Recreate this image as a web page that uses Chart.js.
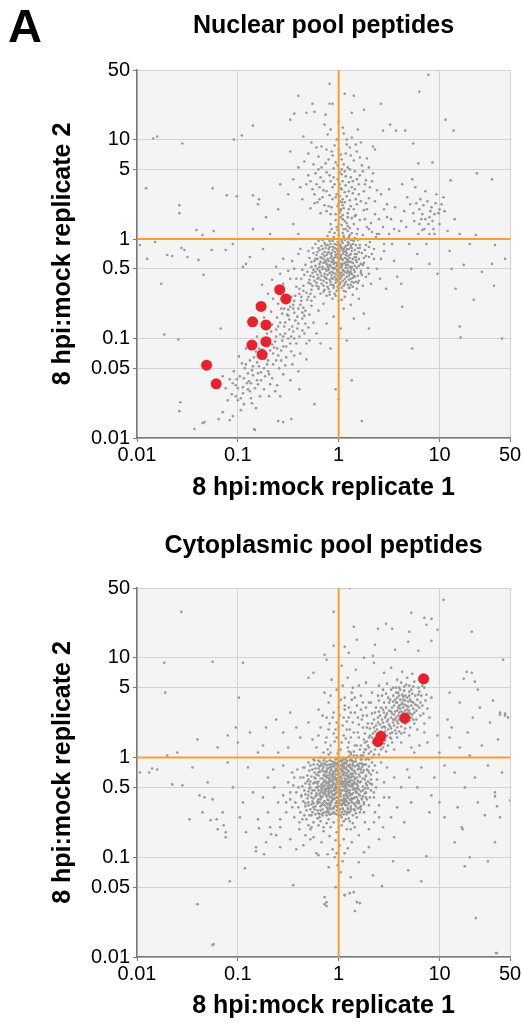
<!DOCTYPE html>
<html>
<head>
<meta charset="utf-8">
<script src="https://cdn.jsdelivr.net/npm/chart.js@4.4.0/dist/chart.umd.min.js"></script>
<style>
  html, body { margin: 0; padding: 0; background: #fff; }
  body { width: 523px; height: 1027px; position: relative; overflow: hidden; font-family: 'Liberation Sans', Arial, sans-serif; }
  #nuclearWrap { position: absolute; left: 0; top: 0; width: 523px; height: 510px; }
  #cytoWrap { position: absolute; left: 0; top: 510px; width: 523px; height: 517px; }
  #panelLetter { position: absolute; left: 8px; top: 2px; font-size: 47px; font-weight: bold; line-height: 47px; z-index: 2; }
</style>
</head>
<body>
<div id="nuclearWrap"><canvas id="nuclearChart" width="523" height="510"></canvas></div>
<div id="cytoWrap"><canvas id="cytoChart" width="523" height="517"></canvas></div>
<div id="panelLetter">A</div>
<script>
const FONT = "'Liberation Sans', Arial, Helvetica, sans-serif";
const ORANGE = '#f2a02e';

const xTickValues = [0.01, 0.1, 1, 10, 50];
const yTickValues = [0.01, 0.05, 0.1, 0.5, 1, 5, 10, 50];

// highlighted peptides (ratio rep1, ratio rep2)
const nuclearHighlighted = [[0.26, 0.31], [0.30, 0.25], [0.17, 0.21], [0.14, 0.147], [0.19, 0.137],
  [0.138, 0.086], [0.19, 0.093], [0.174, 0.069], [0.049, 0.054], [0.061, 0.035]];
const cytoHighlighted = [[6.95, 6.15], [4.53, 2.48], [2.62, 1.63], [2.45, 1.44]];

// background peptides, log10(rep1), log10(rep2) pairs, by region
const nuclearCore = [
  0.02,-0.18, -0.05,-0.22, 0.07,-0.12, -0.11,-0.27, 0.12,-0.08, -0.02,-0.31, 0.04,-0.25, -0.08,-0.15, 0.15,-0.02, -0.14,-0.35,
  0.01,-0.05, 0.09,-0.21, -0.17,-0.19, 0.05,0.03, -0.03,-0.41, 0.18,-0.15, -0.21,-0.30, 0.10,-0.33, -0.06,-0.08, 0.03,-0.37,
  -0.12,-0.44, 0.13,0.06, -0.01,0.09, 0.21,-0.06, -0.25,-0.38, 0.06,-0.45, -0.09,-0.02, 0.16,-0.27, -0.19,-0.11, 0.00,-0.28,
  0.08,0.00, -0.04,-0.13, 0.11,-0.16, -0.15,-0.24, 0.24,0.04, -0.28,-0.45, 0.03,0.14, -0.07,-0.36, 0.14,-0.39, -0.22,-0.16,
  0.19,0.10, -0.10,-0.50, 0.07,-0.29, -0.01,-0.48, 0.26,-0.11, -0.31,-0.33, 0.02,-0.09, -0.13,-0.06, 0.09,0.08, -0.18,-0.41,
  0.17,-0.21, -0.05,0.02, 0.12,-0.46, -0.24,-0.22, 0.04,-0.15, -0.02,-0.24, 0.22,-0.32, -0.35,-0.47, 0.06,0.18, -0.08,-0.46,
  0.28,0.12, -0.16,-0.01, 0.01,-0.34, -0.11,-0.20, 0.15,0.15, -0.27,-0.51, 0.10,-0.04, -0.03,-0.18, 0.20,-0.42, -0.20,-0.48,
  0.05,-0.52, -0.06,-0.29, 0.13,-0.12, -0.33,-0.26, 0.31,-0.03, -0.09,0.07, 0.00,0.04, 0.08,-0.38, -0.14,-0.13, 0.18,-0.50,
  -0.23,-0.05, 0.03,-0.02, -0.04,-0.55, 0.11,0.11, -0.29,-0.19, 0.25,-0.24, -0.12,-0.32, 0.07,-0.07, -0.02,0.12, 0.16,0.01,
  -0.18,-0.55, 0.33,0.07, -0.07,-0.23, 0.04,-0.42, -0.37,-0.40, 0.09,-0.26, -0.10,-0.10, 0.21,0.19, -0.26,-0.09, 0.14,-0.56,
  0.02,0.22, -0.15,-0.47, 0.27,-0.17, -0.05,-0.34, 0.06,-0.19, -0.21,-0.36, 0.12,-0.23, -0.01,-0.12, 0.19,-0.09, -0.32,-0.54,
  0.05,-0.32, -0.08,0.15, 0.23,-0.36, -0.13,-0.39, 0.00,-0.43, 0.10,0.02, -0.19,-0.25, 0.35,-0.20, -0.04,-0.05, 0.08,-0.14,
  -0.24,-0.58, 0.16,-0.33, -0.11,0.03, 0.03,-0.61, -0.30,-0.12, 0.13,0.21, -0.06,-0.40, 0.29,-0.29, -0.16,-0.30, 0.01,-0.20,
  0.07,0.10, -0.09,-0.53, 0.20,-0.13, -0.36,-0.31, 0.04,0.06, -0.02,-0.27, 0.17,0.24, -0.22,-0.44, 0.11,-0.35, -0.14,-0.17,
  0.24,-0.47, -0.03,0.19, 0.06,-0.58, -0.27,-0.28, 0.14,-0.05, -0.08,-0.19, 0.32,0.16, -0.17,-0.07, 0.02,-0.44, 0.09,-0.17,
  -0.12,-0.57, 0.18,0.05, -0.25,-0.14, 0.00,0.00, -0.05,-0.47, 0.22,-0.25, -0.39,-0.50, 0.12,-0.01, -0.10,-0.31, 0.05,-0.10,
  0.26,0.20, -0.20,-0.02, 0.15,-0.44, -0.01,-0.37, 0.08,0.16, -0.29,-0.41, 0.03,-0.26, -0.07,0.10, 0.19,-0.37, -0.15,-0.53,
  0.10,-0.49, -0.04,0.06, 0.30,-0.08, -0.23,-0.33, 0.01,0.27, 0.13,-0.28, -0.11,-0.14, 0.07,-0.53, -0.34,-0.36, 0.21,0.00,
  -0.02,-0.06, 0.16,-0.18, -0.18,-0.34, 0.04,0.24, -0.06,-0.60, 0.27,-0.38, -0.13,-0.23, 0.09,0.13, -0.26,-0.47, 0.00,-0.32,
  0.12,-0.40, -0.09,-0.26, 0.37,0.02, -0.21,-0.20
];
const nuclearCoreDense = [
  -0.03,-0.16, 0.06,-0.24, -0.10,-0.22, 0.01,-0.29, 0.10,-0.10, -0.16,-0.28, 0.04,-0.11, -0.07,-0.33, 0.14,-0.20, -0.01,-0.03,
  -0.13,-0.09, 0.08,-0.34, -0.20,-0.39, 0.02,-0.39, 0.17,-0.06, -0.05,-0.25, 0.11,-0.28, -0.09,-0.41, 0.05,0.01, -0.18,-0.23,
  0.00,-0.14, 0.13,-0.35, -0.12,-0.16, 0.07,-0.43, -0.02,-0.52, 0.20,-0.20, -0.23,-0.27, 0.03,-0.20, -0.06,-0.11, 0.09,-0.03,
  -0.15,-0.42, 0.12,-0.15, -0.04,-0.38, 0.16,-0.11, -0.08,-0.05, 0.01,-0.46, -0.19,-0.32, 0.06,-0.08, -0.11,-0.48, 0.23,-0.14,
  -0.01,-0.19, 0.10,-0.41, -0.26,-0.34, 0.04,-0.31, -0.07,-0.17, 0.14,-0.24, -0.14,-0.38, 0.02,-0.07, -0.03,-0.44, 0.18,-0.29,
  -0.21,-0.13, 0.08,-0.20, -0.10,-0.29, 0.00,-0.23, 0.11,0.04, -0.05,-0.49, 0.15,-0.37, -0.17,-0.45, 0.05,-0.36, -0.09,-0.08,
  0.21,-0.09, -0.02,-0.10, 0.07,-0.26, -0.13,-0.30, 0.03,-0.49, -0.24,-0.42, 0.12,-0.30, -0.06,-0.21, 0.17,-0.43, 0.00,-0.09,
  -0.16,-0.15, 0.09,-0.46, -0.04,-0.29, 0.19,-0.01, -0.11,-0.36, 0.04,-0.21, -0.20,-0.50, 0.13,-0.09, -0.08,-0.43, 0.02,-0.16,
  0.25,-0.19, -0.14,-0.04, 0.06,-0.40, -0.01,-0.33, 0.10,-0.23, -0.28,-0.37, 0.15,-0.31, -0.06,-0.02, 0.03,-0.28, -0.18,-0.18,
  0.08,-0.10, -0.03,-0.57, 0.20,-0.27, -0.10,-0.13, 0.01,-0.40, -0.22,-0.47, 0.11,-0.19, -0.07,-0.39, 0.14,-0.48, -0.02,-0.15,
  0.05,-0.13, -0.12,-0.25, 0.27,-0.06, -0.04,-0.09, 0.08,-0.29, -0.17,-0.37, 0.00,-0.50, 0.12,-0.06, -0.09,-0.34, 0.18,-0.23,
  -0.25,-0.31, 0.03,-0.34, -0.05,-0.19, 0.16,-0.15, -0.14,-0.51, 0.07,-0.16, -0.01,-0.26, 0.10,-0.37, -0.20,-0.09, 0.04,-0.04,
  -0.08,-0.27, 0.22,-0.34, -0.03,-0.35, 0.13,-0.43, -0.15,-0.20, 0.01,-0.12, -0.30,-0.44, 0.09,-0.32, -0.06,-0.46, 0.17,-0.18,
  -0.11,-0.06, 0.05,-0.47, -0.02,-0.40, 0.24,-0.26, -0.19,-0.28, 0.06,-0.01, -0.07,-0.14, 0.11,-0.49, -0.23,-0.20, 0.02,-0.25,
  0.14,-0.01, -0.12,-0.40, 0.00,-0.17, -0.04,-0.24, 0.19,-0.44, -0.16,-0.10, 0.08,-0.23, -0.09,-0.56, 0.03,-0.09, 0.30,-0.18,
  -0.27,-0.23, 0.12,-0.33, -0.01,-0.42, 0.06,-0.33, -0.13,-0.22, 0.16,-0.38, -0.05,-0.30, 0.09,-0.06, -0.21,-0.40, 0.01,-0.36,
  0.02,0.30, 0.04,0.40, 0.01,0.55, 0.03,0.70, 0.02,0.85, 0.04,0.20, 0.00,0.15, 0.05,0.10, 0.03,0.50, 0.01,0.38
];
const nuclearUpperTail = [
  0.05,0.31, -0.12,0.28, 0.18,0.35, -0.03,0.42, 0.09,0.26, -0.21,0.37, 0.02,0.51, 0.14,0.46, -0.08,0.58, 0.25,0.29,
  -0.15,0.49, 0.07,0.63, -0.28,0.31, 0.00,0.35, 0.20,0.55, -0.05,0.71, 0.11,0.39, -0.18,0.62, 0.03,0.80, 0.30,0.41,
  -0.10,0.33, 0.16,0.68, -0.24,0.45, 0.06,0.47, -0.01,0.60, 0.23,0.74, -0.32,0.55, 0.12,0.84, -0.07,0.88, 0.01,0.67,
  -0.13,0.76, 0.27,0.59, -0.36,0.40, 0.08,0.95, -0.20,0.83, 0.18,0.88, -0.02,1.00, 0.34,0.66, -0.11,1.05, 0.04,1.12,
  -0.27,0.97, 0.13,1.02, -0.40,0.72, 0.22,0.97, -0.06,0.52, 0.10,0.57, -0.16,0.42, 0.02,0.29, 0.15,0.30, -0.09,0.44,
  0.06,0.37, -0.23,0.66, 0.28,0.81, -0.04,0.94, 0.09,0.72, -0.30,0.86, 0.00,1.18, -0.14,1.15, 0.19,1.10, -0.45,0.60,
  0.36,0.90, -0.08,0.25, 0.04,0.58, -0.19,0.52, 0.12,0.62, -0.35,1.03, 0.25,0.48, 0.01,0.43, -0.03,0.77, 0.07,0.86,
  -0.25,0.75, 0.16,0.23, -0.12,0.67, 0.38,0.49, -0.48,0.88, 0.05,1.06, -0.17,0.93, 0.21,0.64, -0.01,0.33, 0.03,0.65,
  0.10,0.48, -0.06,0.40,
  -0.14,0.34, 0.08,0.43, -0.04,0.55, 0.17,0.40, -0.22,0.55, 0.13,0.52, -0.09,0.64, 0.05,0.75, -0.17,0.72, 0.24,0.68,
  -0.06,0.84, 0.15,0.79, -0.30,0.64, 0.11,0.92, -0.12,0.90, 0.20,0.45, -0.01,0.74, 0.07,0.54, -0.26,0.50, 0.31,0.52,
  0.18,0.60, -0.07,0.32, 0.12,0.33, -0.19,0.40, 0.03,0.37,
  -0.02,0.45, 0.10,0.30, -0.15,0.58, 0.22,0.38, 0.06,0.68, -0.24,0.36, 0.14,0.58, -0.05,0.62, 0.26,0.55, -0.10,0.80,
  0.08,1.00, -0.20,0.70, 0.17,0.95, -0.34,0.78, 0.30,0.72, 0.00,0.90, -0.08,1.10, 0.21,0.82, -0.28,0.58, 0.11,0.70,
  -0.12,0.48, 0.04,0.34, 0.16,0.50, -0.03,0.25, 0.27,0.36, -0.18,0.26, 0.09,0.22, -0.38,0.52, 0.33,0.58, -0.22,0.92
];
const nuclearLowerTail = [
  -0.35,-0.52, -0.42,-0.48, -0.31,-0.61, -0.47,-0.58, -0.38,-0.66, -0.52,-0.63, -0.44,-0.74, -0.33,-0.72, -0.57,-0.70, -0.49,-0.81,
  -0.40,-0.85, -0.61,-0.79, -0.54,-0.88, -0.45,-0.93, -0.36,-0.80, -0.66,-0.86, -0.58,-0.96, -0.50,-1.00, -0.63,-1.03, -0.71,-0.95,
  -0.42,-1.05, -0.55,-1.08, -0.68,-1.12, -0.76,-1.04, -0.60,-1.17, -0.73,-1.20, -0.82,-1.13, -0.65,-1.26, -0.79,-1.28, -0.88,-1.22,
  -0.70,-1.33, -0.85,-1.37, -0.93,-1.30, -0.77,-1.42, -0.91,-1.45, -0.98,-1.38, -0.83,-1.50, -1.02,-1.47, -0.95,-1.55, -1.08,-1.41,
  -0.74,-1.51, -0.87,-1.60, -1.00,-1.62, -0.66,-1.40, -0.59,-1.30, -0.52,-1.19, -0.47,-1.13, -0.39,-0.98, -0.30,-0.89, -0.27,-0.67,
  -0.43,-0.57, -0.56,-0.75, -0.48,-0.68, -0.37,-0.58, -0.62,-0.91, -0.69,-1.00, -0.53,-0.95, -0.41,-0.78, -0.34,-0.95, -0.29,-1.02,
  -0.25,-0.84, -0.57,-1.22, -0.81,-1.24, -0.72,-1.15, -0.64,-1.09, -0.86,-1.32, -0.96,-1.25, -1.04,-1.33, -0.90,-1.51, -0.80,-1.35,
  -1.12,-1.50, -0.94,-1.66, -0.69,-1.58, -0.61,-1.47, -0.55,-1.36, -0.46,-1.26, -0.38,-1.15, -0.32,-1.21, -0.50,-0.71, -0.60,-0.65,
  -0.67,-0.73, -0.44,-0.62, -0.35,-0.69, -0.28,-0.55, -0.53,-0.84, -0.46,-0.88, -0.75,-0.89, -0.84,-1.06, -0.71,-1.26, -0.99,-1.18,
  -1.06,-1.56, -0.89,-1.43, -0.78,-1.58, -0.63,-1.53, -1.15,-1.38, -1.10,-1.62, -0.97,-1.72, -0.82,-1.70, -0.58,-1.58, -0.48,-1.42,
  -0.40,-1.33, -0.65,-0.60, -0.74,-0.79, -0.81,-0.98, -0.92,-1.10,
  -0.55,-0.45, -0.62,-0.50, -0.48,-0.40, -0.70,-0.55, -0.58,-0.35, -0.44,-0.30, -0.76,-0.46, -0.66,-0.41,
  -0.15,-0.65, 0.05,-0.70, -0.05,-0.78, 0.12,-0.66, -0.20,-0.72, 0.20,-0.60, 0.02,-0.90, -0.12,-0.85, 0.15,-0.80, -0.22,-0.95,
  0.08,-1.02, 0.25,-0.75, -0.08,-1.10, 0.00,-0.62, -0.18,-1.05, 0.30,-0.90,
  -0.30,-0.58, -0.39,-0.55, -0.45,-0.66, -0.36,-0.74, -0.51,-0.76, -0.43,-0.82, -0.58,-0.84, -0.47,-0.98, -0.62,-0.98, -0.56,-1.02,
  -0.70,-1.08, -0.65,-1.15, -0.78,-1.18, -0.74,-1.30, -0.85,-1.28, -0.81,-1.42, -0.94,-1.40, -0.88,-1.53, -1.00,-1.50, -0.97,-1.60,
  -0.73,-1.38, -0.62,-1.22, -0.52,-1.08, -0.44,-1.00, -0.33,-0.85, -0.29,-0.76, -0.40,-0.70, -0.54,-0.70, -0.67,-0.93, -0.79,-1.10,
  -0.90,-1.35, -1.05,-1.45, -0.68,-1.46, -0.57,-1.12, -0.49,-0.91,
  -0.37,-0.62, -0.50,-0.77, -0.41,-0.90, -0.60,-0.88, -0.55,-0.98, -0.66,-1.06, -0.48,-1.05, -0.76,-1.11, -0.61,-1.10, -0.84,-1.19,
  -0.70,-1.22, -0.92,-1.26, -0.77,-1.34, -0.87,-1.45, -1.01,-1.41, -0.95,-1.49, -0.34,-0.77, -0.27,-0.62, -0.45,-0.70, -0.57,-0.60,
  -0.32,-1.05, -0.44,-1.17, -0.36,-0.92, -0.53,-1.27, -0.69,-1.36, -0.80,-1.46, -1.02,-1.58, -0.86,-1.65
];
const nuclearRightWing = [
  0.40,0.05, 0.45,-0.12, 0.52,0.20, 0.38,-0.30, 0.60,0.08, 0.48,0.35, 0.55,-0.22, 0.65,0.28, 0.42,0.45, 0.70,-0.05,
  0.75,0.18, 0.58,-0.38, 0.80,0.30, 0.68,0.42, 0.85,0.10, 0.78,-0.15, 0.90,0.22, 0.88,0.38, 0.95,0.05, 0.83,0.25,
  0.92,0.32, 1.00,0.15, 0.97,0.45, 0.87,-0.05, 1.05,0.28, 0.93,0.18, 0.81,0.40, 1.08,0.08, 1.02,0.35, 0.76,0.52,
  0.63,0.55, 0.50,0.50, 0.72,-0.30, 0.62,-0.45, 0.47,-0.50, 0.90,-0.25, 1.10,-0.12, 1.15,0.20, 0.98,-0.35, 0.36,0.25,
  0.44,0.12, 0.56,0.32, 0.67,0.12, 0.86,0.48, 0.94,0.10, 0.79,0.05, 0.71,0.35, 1.04,0.42, 0.89,0.15, 0.84,0.34,
  0.53,-0.05, 0.41,-0.40, 1.20,0.05, 1.12,-0.30, 0.73,0.60, 0.99,0.26, 0.91,0.28, 0.82,0.20, 0.77,0.36,
  0.30,-0.35, 0.35,-0.10, 0.40,0.20, 0.45,0.30, 0.32,-0.45, 0.50,0.05, 0.86,0.20, 0.95,0.25, 0.80,0.15, 0.90,0.05,
  1.00,0.30, 0.74,0.26, 0.96,0.36, 0.83,0.09,
  0.30,0.10, 0.38,0.05, 0.42,-0.20, 0.33,-0.15, 0.48,0.22, 0.55,0.10, 0.36,0.38, 0.28,0.30, 0.45,-0.05, 0.62,0.18
];
const nuclearLeftSpread = [
  -0.45,0.15, -0.60,0.30, -0.75,-0.10, -0.55,-0.20, -0.85,0.10, -0.50,0.45, -0.68,0.05, -0.92,-0.25, -0.40,-0.15, -0.80,0.35,
  -0.62,-0.28, -0.48,0.00, -0.72,0.22, -1.05,-0.05, -0.58,0.55, -0.88,-0.18,
  -0.42,-0.40, -0.46,-0.22, -0.38,-0.10, -0.50,-0.32, -0.40,0.05
];
const nuclearOutliers = [
  0.89,1.65, -0.09,1.56, 0.80,1.48, 0.06,1.46, 0.15,1.44, -0.40,1.44, -0.26,1.36, -0.09,1.36, -0.06,1.36, 0.42,1.36,
  0.25,1.30, -0.24,1.28, -0.32,1.27, -0.44,1.26, 0.13,1.27, -0.13,1.25, 1.06,1.20, 1.14,1.09, -0.48,1.20, -0.85,1.14,
  -0.96,1.04, -1.04,1.00, -1.84,1.01, -1.80,1.03, -1.55,0.96, 0.51,1.15, 0.44,1.09, 0.34,0.93, 0.57,1.09, 0.66,1.09,
  0.74,0.96, 0.93,0.77, 0.79,0.76, 1.37,0.66, 1.52,0.60, 1.11,0.59, -1.91,0.51, -1.25,0.51, -1.11,0.44, -1.01,0.43,
  -0.85,0.44, -0.79,0.40, -1.58,0.34, -1.58,0.26, -1.41,0.09, -1.24,0.08, -1.35,0.04, -1.97,-0.06, -1.90,-0.20, -1.82,-0.03,
  -1.70,-0.16, -1.65,-0.17, -1.56,-0.09, -1.53,-0.11, -1.50,-0.18, -1.39,-0.21, -1.26,-0.11, -1.12,-0.11, -1.34,-0.36, -1.76,-0.45,
  -0.95,-0.28, 1.36,0.04, 1.30,-0.05, 1.55,-0.06, 1.65,-0.20, 1.52,-0.25, 1.42,-0.33, 1.24,-0.26, 1.54,-0.47, 1.16,-0.50,
  1.34,-0.61, 1.20,-0.88, 1.21,-0.99, 1.62,-1.00, 0.73,-1.10, 0.63,-0.68, 0.13,-1.42, 0.00,-1.61, 0.23,-1.83, -0.03,-1.51,
  -0.39,-1.51, -0.47,-1.81, -0.60,-1.83, -0.84,-1.91, -1.43,-1.91, -1.33,-1.84, -1.19,-1.81, -1.15,-1.74, -1.05,-1.78, -1.58,-1.73,
  -1.57,-1.64, -1.73,-0.96, -1.59,-1.01, -1.17,-0.90, -0.24,-1.66, -0.55,-1.84, -1.35,-1.85, -1.08,-1.82, -0.83,-1.92
];

const cytoCore = [
  -0.02,-0.21, 0.05,-0.15, -0.09,-0.28, 0.11,-0.09, -0.14,-0.17, 0.02,-0.33, -0.05,-0.06, 0.08,-0.26, -0.18,-0.35, 0.15,-0.04,
  -0.01,-0.40, -0.11,-0.11, 0.04,-0.02, -0.22,-0.25, 0.13,-0.19, -0.07,-0.45, 0.19,-0.12, -0.03,-0.13, 0.07,-0.37, -0.15,-0.03,
  0.00,-0.27, -0.25,-0.41, 0.10,0.01, -0.12,-0.50, 0.22,-0.24, -0.06,-0.19, 0.03,-0.08, -0.19,-0.14, 0.16,-0.31, -0.28,-0.30,
  0.06,-0.47, -0.10,-0.37, 0.25,-0.07, -0.04,-0.31, 0.12,-0.43, -0.16,-0.46, 0.01,-0.16, -0.21,-0.07, 0.18,0.02, -0.08,-0.03,
  0.09,-0.21, -0.30,-0.48, 0.27,-0.18, -0.13,-0.24, 0.04,-0.52, -0.02,-0.01, 0.14,-0.27, -0.24,-0.52, 0.21,-0.38, -0.09,-0.15,
  0.06,-0.11, -0.17,-0.40, 0.30,0.04, -0.05,-0.38, 0.11,-0.33, -0.27,-0.19, 0.00,-0.06, -0.14,-0.55, 0.17,-0.16, -0.01,-0.49,
  0.08,-0.05, -0.20,-0.29, 0.24,-0.29, -0.11,-0.42, 0.03,-0.24, -0.33,-0.37, 0.13,-0.11, -0.07,-0.09, 0.20,-0.46, -0.23,-0.11,
  0.05,-0.57, -0.16,-0.21, 0.28,-0.12, -0.03,-0.29, 0.09,-0.40, -0.12,-0.04, 0.15,0.06, -0.29,-0.58, 0.01,-0.35, -0.08,-0.52,
  0.22,-0.02, -0.18,-0.49, 0.07,-0.18, -0.04,-0.22, 0.32,-0.22, -0.26,-0.33, 0.12,-0.51, -0.10,-0.26, 0.18,-0.35, -0.01,-0.09,
  -0.21,-0.44, 0.04,-0.43, 0.26,0.08, -0.13,-0.32, 0.10,-0.14, -0.06,-0.56, 0.16,-0.22, -0.31,-0.24, 0.02,-0.03, -0.19,-0.57,
  0.23,-0.41, -0.09,-0.20, 0.06,-0.30, -0.15,-0.10, 0.29,-0.31, -0.02,-0.44, 0.14,-0.36, -0.24,-0.03, 0.08,-0.55, -0.11,-0.18,
  0.19,-0.07, -0.35,-0.44, 0.00,-0.20, -0.07,-0.34, 0.12,0.03, -0.17,-0.27, 0.25,-0.45, -0.04,-0.05, 0.05,-0.26, -0.27,-0.47,
  0.17,-0.49, -0.12,-0.58, 0.09,-0.08, -0.20,-0.18, 0.33,-0.05, -0.03,-0.36, 0.15,-0.13, -0.08,-0.40, 0.21,-0.19, -0.14,-0.06,
  0.03,-0.48, -0.22,-0.36, 0.11,-0.23, -0.05,-0.14, 0.27,-0.26, -0.32,-0.53, 0.07,-0.42, -0.10,-0.47, 0.18,-0.27, 0.00,-0.54,
  -0.18,-0.08, 0.13,-0.03, -0.25,-0.26, 0.04,-0.17, -0.06,-0.27, 0.23,-0.10, -0.13,-0.37, 0.10,-0.46, -0.01,-0.25, 0.16,-0.40,
  -0.29,-0.13, 0.06,-0.05, -0.09,-0.57, 0.30,-0.15, -0.16,-0.52, 0.02,-0.39, -0.23,-0.21, 0.20,-0.32, -0.03,-0.17, 0.14,-0.58,
  -0.11,-0.31, 0.08,-0.31, -0.36,-0.29, 0.26,-0.36, -0.07,-0.12, 0.12,-0.29, -0.19,-0.45, 0.01,-0.11, -0.27,-0.40, 0.18,-0.08,
  -0.04,-0.49, 0.09,-0.52, -0.15,-0.14, 0.31,-0.40, -0.08,-0.24, 0.05,-0.38, -0.21,-0.53, 0.22,-0.15, -0.01,-0.31, 0.15,-0.46,
  -0.12,-0.08, 0.03,-0.12, -0.30,-0.34, 0.24,-0.21, -0.06,-0.42, 0.11,-0.55, -0.17,-0.31, 0.07,-0.01, -0.24,-0.15, 0.19,-0.43,
  -0.02,-0.57, 0.13,-0.17, -0.10,-0.35, 0.28,-0.01, -0.14,-0.44, 0.04,-0.33, -0.20,-0.03, 0.16,-0.09, -0.05,-0.51, 0.10,-0.24,
  -0.33,-0.49, 0.21,-0.50, -0.09,-0.10, 0.06,-0.21, -0.26,-0.55, 0.17,-0.34, -0.13,-0.19, 0.00,-0.45, 0.25,-0.13, -0.18,-0.39,
  0.08,-0.48, -0.03,-0.02, 0.14,-0.07, -0.22,-0.30, 0.32,-0.33, -0.07,-0.30, 0.11,-0.38, -0.16,-0.58, 0.02,-0.58, -0.28,-0.08,
  0.19,-0.23, -0.11,-0.53, 0.05,-0.09, -0.04,-0.41, 0.23,-0.06, -0.20,-0.24, 0.12,-0.20, -0.37,-0.39, 0.09,-0.35, -0.08,-0.07,
  0.16,-0.53, -0.01,-0.22, 0.27,-0.40, -0.15,-0.35, 0.04,-0.29, -0.25,-0.46, 0.20,-0.11, -0.06,-0.16, 0.13,-0.42, -0.12,-0.13,
  0.01,-0.52, -0.31,-0.18, 0.07,-0.24, -0.19,-0.60, 0.29,-0.24, -0.02,-0.07, 0.10,-0.18, -0.23,-0.39, 0.17,-0.01, -0.09,-0.46,
  0.06,-0.44, -0.14,-0.28, 0.24,-0.33, -0.05,-0.26, 0.15,-0.25, -0.28,-0.24, 0.03,-0.04, -0.17,-0.06, 0.21,-0.55, -0.10,-0.21,
  0.08,-0.12, 0.00,-0.34
];
const cytoCoreDense = [
  0.01,-0.23, -0.06,-0.17, 0.07,-0.29, -0.12,-0.26, 0.12,-0.16, -0.02,-0.35, 0.04,-0.10, -0.09,-0.39, 0.16,-0.26, -0.16,-0.12,
  0.00,-0.44, -0.04,-0.08, 0.09,-0.19, -0.20,-0.33, 0.14,-0.32, -0.08,-0.48, 0.05,-0.41, -0.14,-0.44, 0.20,-0.17, -0.01,-0.12,
  0.10,-0.28, -0.24,-0.20, 0.03,-0.55, -0.10,-0.07, 0.18,-0.40, -0.05,-0.33, 0.07,-0.06, -0.18,-0.53, 0.24,-0.08, -0.03,-0.46,
  0.13,-0.45, -0.27,-0.36, 0.06,-0.33, -0.12,-0.15, 0.02,-0.19, -0.07,-0.23, 0.17,-0.04, -0.21,-0.46, 0.09,-0.51, -0.15,-0.29,
  0.00,-0.04, 0.22,-0.34, -0.09,-0.31, 0.11,-0.07, -0.02,-0.53, 0.15,-0.19, -0.29,-0.27, 0.04,-0.24, -0.11,-0.51, 0.26,-0.22,
  -0.06,-0.04, 0.08,-0.38, -0.19,-0.09, 0.02,-0.47, -0.13,-0.34, 0.19,-0.29, -0.03,-0.27, 0.12,-0.53, -0.23,-0.57, 0.06,-0.15,
  -0.08,-0.13, 0.30,-0.09, -0.16,-0.39, 0.01,-0.30, 0.10,-0.09, -0.04,-0.56, 0.16,-0.47, -0.26,-0.12, 0.05,-0.02, -0.10,-0.43,
  0.21,-0.25, -0.01,-0.17, 0.08,-0.44, -0.18,-0.21, 0.13,-0.12, -0.06,-0.37, 0.03,-0.60, -0.31,-0.41, 0.24,-0.39, -0.14,-0.01,
  0.07,-0.22, -0.02,-0.40, 0.17,-0.35, -0.21,-0.30, 0.00,-0.16, -0.09,-0.22, 0.11,-0.42, -0.05,-0.09, 0.28,-0.28, -0.17,-0.48,
  0.04,-0.51, -0.12,-0.20, 0.14,-0.08, -0.25,-0.50, 0.06,-0.28, -0.03,-0.06, 0.19,-0.51, -0.08,-0.35, 0.02,-0.08, -0.15,-0.25,
  0.09,-0.33, -0.34,-0.33, 0.23,-0.02, -0.04,-0.19, 0.13,-0.37, -0.20,-0.15, 0.01,-0.38, -0.10,-0.55, 0.16,-0.14, -0.06,-0.28,
  0.05,-0.45, -0.28,-0.52, 0.20,-0.44, -0.13,-0.07, 0.08,-0.16, -0.01,-0.50, 0.11,-0.25, -0.22,-0.38, 0.31,-0.26, -0.07,-0.44,
  0.03,-0.14, -0.16,-0.56, 0.15,-0.41, -0.04,-0.14, 0.25,-0.47, -0.11,-0.29, 0.07,-0.48, -0.19,-0.04, 0.00,-0.24, -0.09,-0.17,
  0.12,-0.02, -0.30,-0.22, 0.06,-0.38, -0.02,-0.30, 0.18,-0.20, -0.14,-0.48, 0.10,-0.55, -0.05,-0.42, 0.22,-0.12, -0.24,-0.33,
  0.02,-0.36, -0.08,-0.10, 0.14,-0.29, -0.18,-0.42, 0.27,-0.35, -0.03,-0.21, 0.09,-0.13, -0.12,-0.39, 0.04,-0.06, -0.26,-0.44,
  0.17,-0.56, -0.06,-0.51, 0.01,-0.20, -0.15,-0.18, 0.12,-0.49, -0.21,-0.26, 0.08,-0.03, -0.01,-0.05, 0.20,-0.37, -0.10,-0.24,
  0.05,-0.18, -0.33,-0.46, 0.13,-0.23, -0.07,-0.07, 0.00,-0.58, 0.24,-0.15, -0.17,-0.33, 0.06,-0.42, -0.04,-0.33, 0.16,-0.32,
  -0.12,-0.46, 0.03,-0.27, -0.20,-0.56, 0.10,-0.20, -0.02,-0.24, 0.29,-0.13, -0.09,-0.50, 0.14,-0.05, -0.25,-0.07, 0.07,-0.34,
  -0.05,-0.15, 0.19,-0.24, -0.14,-0.23, 0.02,-0.43, 0.11,-0.36, -0.29,-0.31, 0.04,-0.13, -0.08,-0.30, 0.22,-0.49, -0.01,-0.46,
  0.09,-0.25, -0.18,-0.14, 0.15,-0.52, -0.11,-0.11, 0.01,-0.33, -0.23,-0.49, 0.26,-0.31, -0.06,-0.24, 0.12,-0.11, -0.15,-0.36,
  0.06,-0.54, -0.03,-0.11, 0.18,-0.45, -0.20,-0.11, 0.08,-0.27, -0.10,-0.33, 0.03,-0.21, -0.27,-0.58, 0.13,-0.41, -0.05,-0.55,
  0.21,-0.06, -0.13,-0.14, 0.00,-0.31, -0.07,-0.40, 0.10,-0.46, -0.17,-0.29, 0.05,-0.07, 0.32,-0.17, -0.02,-0.49, -0.22,-0.17,
  0.16,-0.21, -0.09,-0.03, 0.07,-0.10, -0.12,-0.55, 0.02,-0.26, -0.30,-0.38, 0.14,-0.16, -0.04,-0.37, 0.23,-0.42, -0.16,-0.08,
  0.09,-0.40, -0.06,-0.21, 0.04,-0.46, -0.19,-0.37, 0.11,-0.03, -0.01,-0.14, 0.18,-0.31, -0.11,-0.47, 0.06,-0.24, -0.24,-0.25,
  0.27,-0.19, -0.07,-0.18, 0.01,-0.52, -0.14,-0.32, 0.13,-0.27, -0.03,-0.32, 0.08,-0.57, -0.20,-0.42, 0.20,-0.09, -0.08,-0.57
];
const cytoCoreRim = [
  -0.40,-0.30, -0.43,-0.45, -0.38,-0.55, -0.35,-0.20, -0.41,-0.12, -0.32,-0.62, -0.25,-0.65, -0.18,-0.64, -0.10,-0.62, 0.00,-0.63,
  0.10,-0.61, 0.18,-0.60, 0.25,-0.55, 0.30,-0.48, 0.35,-0.40, 0.37,-0.30, 0.38,-0.22, 0.36,-0.08, 0.30,-0.02, 0.24,0.02,
  0.10,0.06, 0.00,0.07, -0.10,0.03, -0.18,0.00, -0.25,-0.02, -0.30,-0.05, -0.34,-0.10, -0.37,-0.38, -0.33,-0.26, -0.30,-0.45,
  -0.34,-0.58, -0.21,-0.61, 0.05,-0.64, 0.14,-0.66, 0.22,-0.52, 0.28,-0.42, 0.33,-0.27, 0.34,-0.13, 0.27,-0.07, -0.46,-0.50,
  -0.48,-0.35, -0.44,-0.20, -0.52,-0.45, -0.39,-0.65, -0.28,-0.72, -0.15,-0.70, 0.12,-0.72, 0.26,-0.65, 0.40,-0.60, 0.45,-0.40
];
const cytoDiagonalArm = [
  0.25,0.05, 0.30,0.10, 0.35,0.03, 0.28,0.16, 0.38,0.12, 0.33,0.20, 0.42,0.08, 0.22,0.12, 0.40,0.18, 0.45,0.14,
  0.36,0.26, 0.48,0.22, 0.31,0.29, 0.43,0.30, 0.52,0.19, 0.39,0.35, 0.50,0.33, 0.56,0.27, 0.46,0.40, 0.58,0.36,
  0.53,0.44, 0.62,0.31, 0.44,0.48, 0.60,0.45, 0.65,0.40, 0.55,0.52, 0.68,0.48, 0.63,0.55, 0.70,0.37, 0.58,0.60,
  0.72,0.52, 0.66,0.62, 0.75,0.45, 0.61,0.68, 0.78,0.58, 0.70,0.66, 0.51,0.58, 0.47,0.64, 0.57,0.70, 0.74,0.71,
  0.80,0.50, 0.67,0.73, 0.82,0.62, 0.54,0.38, 0.49,0.28, 0.64,0.50, 0.59,0.42, 0.69,0.56, 0.73,0.64, 0.41,0.42,
  0.37,0.50, 0.45,0.55, 0.62,0.24, 0.71,0.30, 0.77,0.38, 0.84,0.44, 0.86,0.57, 0.79,0.70, 0.52,0.68, 0.43,0.62,
  0.56,0.46, 0.66,0.34, 0.60,0.52, 0.50,0.47, 0.68,0.42, 0.74,0.55, 0.63,0.63, 0.48,0.36, 0.35,0.38, 0.29,0.34,
  0.26,0.24, 0.33,0.44, 0.40,0.57, 0.55,0.32, 0.61,0.58, 0.70,0.47, 0.57,0.55, 0.65,0.67, 0.76,0.62, 0.81,0.55,
  0.88,0.49, 0.53,0.25, 0.46,0.17, 0.58,0.20, 0.39,0.24, 0.27,0.08, 0.34,0.15, 0.44,0.35, 0.52,0.40, 0.60,0.38,
  0.67,0.44, 0.72,0.40, 0.59,0.65, 0.64,0.58, 0.54,0.62, 0.47,0.50, 0.42,0.26, 0.37,0.32, 0.31,0.22, 0.49,0.12,
  0.55,0.08, 0.62,0.15, 0.70,0.22, 0.78,0.28, 0.85,0.34, 0.90,0.40, 0.80,0.78, 0.68,0.80, 0.58,0.78, 0.48,0.74,
  0.73,0.84, 0.63,0.86, 0.85,0.70, 0.92,0.60,
  0.32,0.06, 0.37,0.14, 0.41,0.22, 0.29,0.12, 0.46,0.26, 0.51,0.31, 0.44,0.20, 0.57,0.40, 0.48,0.44, 0.54,0.35,
  0.62,0.46, 0.59,0.50, 0.65,0.53, 0.68,0.60, 0.71,0.58, 0.61,0.41, 0.56,0.58, 0.64,0.45, 0.69,0.51, 0.74,0.49,
  0.66,0.57, 0.60,0.62, 0.53,0.50, 0.50,0.55, 0.47,0.42, 0.43,0.38, 0.38,0.28, 0.34,0.24, 0.39,0.40, 0.45,0.31,
  0.52,0.29, 0.58,0.30, 0.63,0.36, 0.67,0.38, 0.73,0.43, 0.76,0.53, 0.79,0.63, 0.72,0.68, 0.65,0.71, 0.57,0.65,
  0.49,0.60, 0.42,0.50, 0.36,0.45, 0.55,0.43, 0.62,0.53, 0.70,0.62, 0.77,0.47, 0.83,0.52, 0.71,0.44, 0.59,0.34,
  0.51,0.24, 0.44,0.10, 0.40,0.03, 0.33,0.00, 0.27,-0.02, 0.22,0.02, 0.36,0.08, 0.47,0.06, 0.53,0.15, 0.60,0.26,
  0.66,0.29, 0.75,0.34, 0.81,0.42, 0.87,0.63, 0.83,0.72, 0.75,0.76, 0.62,0.75, 0.54,0.70, 0.44,0.68, 0.39,0.62,
  0.32,0.55, 0.28,0.42, 0.24,0.30, 0.20,0.20, 0.18,0.12, 0.15,0.02, 0.23,0.38, 0.27,0.50,
  0.26,0.15, 0.30,0.20, 0.35,0.30, 0.41,0.33, 0.46,0.30, 0.49,0.38, 0.56,0.38, 0.58,0.47, 0.63,0.43, 0.61,0.49,
  0.66,0.47, 0.67,0.52, 0.69,0.45, 0.72,0.56, 0.64,0.61, 0.58,0.55, 0.52,0.46, 0.54,0.56, 0.45,0.45, 0.40,0.46,
  0.33,0.34, 0.42,0.15, 0.51,0.20, 0.57,0.24, 0.65,0.25, 0.74,0.38, 0.78,0.52, 0.80,0.66, 0.70,0.72, 0.60,0.70
];
const cytoUpperSpread = [
  0.02,0.08, -0.08,0.12, 0.10,0.15, -0.15,0.05, 0.05,0.22, -0.03,0.28, 0.15,0.25, -0.12,0.20, 0.20,0.33, 0.08,0.36,
  -0.06,0.40, 0.12,0.45, -0.18,0.30, 0.00,0.50, 0.18,0.52, -0.10,0.55, 0.06,0.60, 0.24,0.42, -0.02,0.68, 0.14,0.70,
  -0.20,0.48, 0.09,0.80, -0.07,0.78, 0.22,0.62, 0.03,0.92, -0.14,0.65, 0.17,0.88, 0.27,0.75, -0.04,0.16, 0.12,0.05,
  -0.22,0.10, 0.04,0.32, 0.16,0.12, -0.09,0.34, 0.25,0.18, 0.01,0.42, -0.16,0.42, 0.11,0.28, 0.07,0.19, -0.05,0.24,
  0.19,0.40, 0.30,0.55, 0.13,0.58, -0.01,0.04, -0.11,0.08, 0.09,0.10, -0.26,0.18, 0.28,0.30, 0.33,0.65, -0.30,0.35,
  0.21,0.08, 0.06,0.48, -0.12,0.98, 0.10,1.05, 0.25,1.00, 0.35,0.95, -0.25,0.85, 0.40,0.72, 0.45,0.85, 0.52,0.90,
  -0.05,1.12, 0.18,1.18,
  0.03,0.15, -0.02,0.20, 0.08,0.28, 0.14,0.35, 0.00,0.30, 0.05,0.40, 0.10,0.50, -0.05,0.45, 0.16,0.60, 0.02,0.58,
  0.12,0.20, 0.19,0.25, 0.22,0.48, -0.08,0.05, -0.13,0.15, -0.20,0.22, -0.10,0.28,
  -0.02,0.35, 0.06,0.52, -0.08,0.62, 0.13,0.65, 0.20,0.72, 0.10,0.40, 0.16,0.45, 0.04,0.72, -0.12,0.40, 0.24,0.55
];
const cytoLowerTail = [
  -0.05,-0.65, 0.03,-0.68, -0.12,-0.66, 0.08,-0.72, -0.02,-0.75, -0.09,-0.79, 0.05,-0.82, -0.15,-0.74, 0.11,-0.64, 0.01,-0.88,
  -0.06,-0.92, 0.09,-0.91, -0.04,-1.00, 0.04,-1.04, -0.11,-0.97, 0.13,-0.85, -0.01,-1.08, 0.07,-0.62, -0.20,-0.68, 0.16,-0.70,
  -0.17,-0.85, 0.20,-0.78, -0.08,-0.70, 0.00,-0.70, -0.03,-0.83, 0.06,-0.96, -0.10,-1.10, 0.02,-1.15, 0.12,-1.20, -0.03,-1.30,
  0.06,-1.38, 0.15,-1.35, 0.18,-1.45, -0.12,-1.45, -0.14,-1.40, 0.20,-1.05, 0.25,-0.95, 0.30,-0.90, -0.25,-0.80, -0.22,-0.96
];
const cytoCoreFlanks = [
  -0.38,-0.20, -0.42,-0.35, -0.40,-0.50, -0.45,-0.28, -0.36,-0.62, -0.30,-0.68, -0.48,-0.42, -0.35,-0.10, -0.44,-0.60, -0.27,-0.70,
  -0.52,-0.55, -0.50,-0.25, -0.33,-0.78, -0.39,-0.72, -0.55,-0.38, -0.46,-0.15, -0.58,-0.62, -0.60,-0.45, -0.64,-0.30, -0.62,-0.78,
  -0.70,-0.55, -0.68,-0.70, -0.75,-0.40, -0.72,-0.85, -0.80,-0.62, -0.58,-0.90, -0.48,-0.82, -0.42,-0.92, -0.35,-0.88, -0.28,-0.82,
  0.35,-0.35, 0.38,-0.15, 0.40,-0.48, 0.42,-0.05, 0.36,-0.55, 0.45,-0.25, 0.50,-0.40, 0.48,-0.10, 0.52,-0.60, 0.55,-0.20,
  0.44,-0.70, 0.58,-0.50, 0.35,-0.65, 0.62,-0.30, 0.40,-0.82, 0.30,-0.72, 0.65,-0.65, 0.55,-0.80, 0.68,-0.12, 0.72,-0.45
];
const cytoRightWing = [
  0.75,0.05, 0.82,-0.10, 0.88,0.15, 0.95,-0.20, 1.00,0.05, 0.78,-0.30, 1.05,-0.08, 1.10,0.20, 0.92,-0.38, 1.15,-0.15,
  1.20,0.10, 0.85,0.25, 1.25,-0.30, 1.30,0.02, 1.00,-0.45, 1.35,-0.20, 1.42,0.12, 1.18,-0.50, 1.48,-0.08, 1.55,-0.35,
  1.12,0.30, 0.98,0.22, 1.28,0.25, 1.38,-0.45, 1.62,-0.15, 1.05,-0.60, 0.90,-0.55, 1.22,-0.70, 1.45,-0.58, 1.58,0.18,
  0.80,0.12, 0.72,0.10, 1.08,0.38, 1.33,0.40, 1.50,0.35, 1.65,0.42, 1.40,0.50, 1.60,0.45, 0.70,-0.20, 1.15,-0.85,
  1.30,-1.00, 1.60,-0.60, 1.55,-0.85, 1.20,0.55, 1.10,0.65
];
const cytoLeftWing = [
  -0.80,0.05, -0.90,-0.10, -1.00,0.15, -0.70,-0.20, -1.10,-0.05, -0.85,-0.35, -1.20,0.10, -0.95,-0.45, -1.30,-0.25, -1.40,0.18,
  -0.75,0.12, -1.05,-0.30, -1.15,-0.55, -0.60,0.05, -0.65,-0.12, -0.88,0.25, -1.25,-0.42, -1.35,-0.55, -0.55,-0.08, -0.50,0.10,
  -1.45,-0.10, -0.98,-0.60, -1.10,0.22, -1.60,0.05, -1.70,0.02, -1.80,-0.12, -1.88,-0.15, -1.55,-0.28, -1.48,-0.62, -1.20,-0.72,
  -1.12,-0.80, -0.92,-0.75, -0.82,-0.90, -1.38,-0.38, -1.02,0.30, -0.72,0.30, -0.62,0.38, -0.42,0.30, -0.38,0.20, -0.48,0.45,
  -0.55,0.25
];
const cytoOutliers = [
  0.11,1.70, -1.56,1.46, -0.05,1.46, 1.04,1.58, 0.72,1.45, 0.85,1.40, 0.92,1.39, 0.87,1.33, 0.15,1.31, 0.47,1.34,
  0.53,1.29, 0.39,1.29, 0.70,1.26, 1.32,1.26, 0.98,1.28, 0.92,1.17, 0.69,1.16, 0.79,1.07, 0.56,1.08, 0.36,1.13,
  0.34,1.02, -0.14,1.03, 0.06,1.11, -1.73,0.95, -1.25,0.96, -0.95,0.95, -1.72,0.65, -0.99,0.60, -0.30,0.80, 1.63,0.98,
  1.27,0.86, 1.32,0.85, 1.24,0.79, 1.35,0.76, 1.38,0.68, 1.53,0.57, 1.60,0.43, 1.65,0.44, 1.68,0.40, -1.97,-0.15,
  -1.85,-0.11, -1.65,-0.27, -1.27,-0.63, -1.21,-0.62, -1.14,-0.68, -1.12,-0.75, -1.33,-0.40, -0.67,-0.77, -0.58,-0.70, -0.82,-0.94,
  -0.74,-0.97, -0.93,-1.11, -1.08,-1.24, -1.40,-1.47, -1.24,-1.87, -0.45,-1.28, 0.06,-1.38, 0.11,-1.36, -0.14,-1.47, -0.12,-1.49,
  0.16,-1.54, 0.21,-1.46, 1.36,-1.61, 1.57,-1.96, 1.48,-1.04, 1.25,-1.09, 0.82,-1.24, 0.69,-1.13, 1.23,-0.72, 1.55,-0.39,
  1.57,-0.49, 1.70,-0.43, 0.34,-1.18, 0.43,-1.29, -0.20,-0.98, -0.02,-0.96, 0.54,-1.04, 0.87,-0.99, -0.79,-0.71, -1.25,-1.88,
  1.56,-1.96
];

function fromLog10(...groups) {
  const pts = [];
  groups.forEach(flat => {
    for (let i = 0; i < flat.length; i += 2) {
      pts.push({ x: Math.pow(10, flat[i]), y: Math.pow(10, flat[i + 1]) });
    }
  });
  return pts;
}

function fromRatios(pairs) {
  return pairs.map(([x, y]) => ({ x, y }));
}

// light grey fill behind the plot area
const plotBackground = {
  id: 'plotBackground',
  beforeDraw(chart) {
    const { ctx, chartArea: a } = chart;
    ctx.save();
    ctx.fillStyle = '#f4f4f4';
    ctx.fillRect(a.left, a.top, a.right - a.left, a.bottom - a.top);
    ctx.restore();
  }
};

function buildChart(canvasId, titleText, greyPoints, redPoints, lay) {
  const boldFont = { family: FONT, size: 25, weight: 'bold' };
  const tickFont = { family: FONT, size: 20 };
  return new Chart(document.getElementById(canvasId), {
    type: 'scatter',
    data: {
      datasets: [
        { label: 'highlighted', data: redPoints, backgroundColor: '#e8212b', borderWidth: 0, pointRadius: 5.5, order: 0 },
        { label: 'x = 1', data: [{ x: 1, y: 0.01 }, { x: 1, y: 50 }], showLine: true, borderColor: ORANGE, borderWidth: 2, pointRadius: 0, order: 1 },
        { label: 'y = 1', data: [{ x: 0.01, y: 1 }, { x: 50, y: 1 }], showLine: true, borderColor: ORANGE, borderWidth: 2, pointRadius: 0, order: 1 },
        { label: 'peptides', data: greyPoints, backgroundColor: '#989898', borderWidth: 0, pointRadius: 1.3, order: 2 }
      ]
    },
    options: {
      responsive: false,
      animation: false,
      layout: { padding: { left: 0, right: 13, top: 0, bottom: 0 } },
      plugins: {
        legend: { display: false },
        tooltip: { enabled: false },
        title: {
          display: true, text: titleText, fullSize: false, color: '#000', font: boldFont,
          padding: { top: lay.titleTop, bottom: lay.titleBottom }
        }
      },
      scales: {
        x: {
          type: 'logarithmic', position: 'bottom', min: 0.01, max: 50,
          afterBuildTicks: ax => { ax.ticks = xTickValues.map(v => ({ value: v })); },
          afterFit: ax => { ax.height = lay.xAxisHeight; },
          ticks: { callback: v => String(v), autoSkip: false, maxRotation: 0, color: '#000', font: tickFont, padding: 1 },
          grid: { color: '#d3d3d3', tickColor: '#7a7a7a', tickLength: 4 },
          border: { color: '#7a7a7a', width: 1.5 },
          title: { display: true, text: '8 hpi:mock replicate 1', color: '#000', font: boldFont, padding: { top: 0, bottom: lay.xTitleBottom } }
        },
        y: {
          type: 'logarithmic', position: 'left', min: 0.01, max: 50,
          afterBuildTicks: ax => { ax.ticks = yTickValues.map(v => ({ value: v })); },
          afterFit: ax => { ax.width = 137; },
          ticks: { callback: v => String(v), autoSkip: false, color: '#000', font: tickFont, padding: 3 },
          grid: { color: '#d3d3d3', tickColor: '#7a7a7a', tickLength: 4 },
          border: { color: '#7a7a7a', width: 1.5 },
          title: { display: true, text: '8 hpi:mock replicate 2', color: '#000', font: boldFont, padding: { top: 48, bottom: 0 } }
        }
      }
    },
    plugins: [plotBackground]
  });
}

buildChart('nuclearChart', 'Nuclear pool peptides',
  fromLog10(nuclearCore, nuclearCoreDense, nuclearUpperTail, nuclearLowerTail, nuclearRightWing, nuclearLeftSpread, nuclearOutliers),
  fromRatios(nuclearHighlighted),
  { titleTop: 11, titleBottom: 29, xAxisHeight: 72, xTitleBottom: 7 });

buildChart('cytoChart', 'Cytoplasmic pool peptides',
  fromLog10(cytoCore, cytoCoreDense, cytoCoreRim, cytoDiagonalArm, cytoUpperSpread, cytoLowerTail, cytoCoreFlanks, cytoRightWing, cytoLeftWing, cytoOutliers),
  fromRatios(cytoHighlighted),
  { titleTop: 21, titleBottom: 27, xAxisHeight: 70, xTitleBottom: 6 });
</script>
</body>
</html>
